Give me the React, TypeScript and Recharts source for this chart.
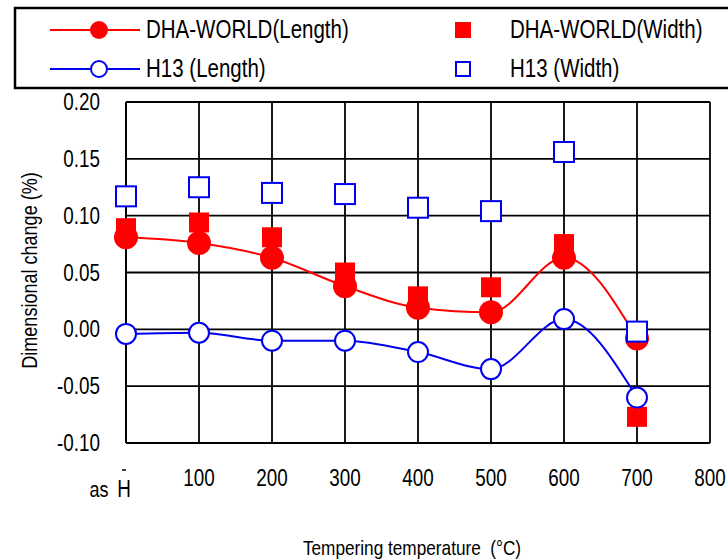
import React from 'react';
import { ComposedChart, Line, XAxis, YAxis, CartesianGrid } from 'recharts';

const temps = [0, 100, 200, 300, 400, 500, 600, 700];
const dhaLength = [0.081, 0.076, 0.063, 0.038, 0.019, 0.015, 0.063, -0.008];
const dhaWidth = [0.089, 0.094, 0.081, 0.05, 0.029, 0.037, 0.075, -0.077];
const h13Length = [-0.004, -0.003, -0.01, -0.01, -0.02, -0.035, 0.009, -0.06];
const h13Width = [0.117, 0.125, 0.12, 0.119, 0.107, 0.104, 0.156, -0.002];
const xTicks = [0, 100, 200, 300, 400, 500, 600, 700, 800];
const yTicks = [-0.1, -0.05, 0, 0.05, 0.1, 0.15, 0.2];

const legendItems = [
  { name: 'DHA-WORLD(Length)', color: '#ff0000', kind: 'lineFilled' },
  { name: 'DHA-WORLD(Width)', color: '#ff0000', kind: 'squareFilled' },
  { name: 'H13 (Length)', color: '#0000ee', kind: 'lineOpen' },
  { name: 'H13 (Width)', color: '#0000ee', kind: 'squareOpen' },
];

const data = temps.map((t, i) => ({
  t,
  dhaL: dhaLength[i],
  dhaW: dhaWidth[i],
  h13L: h13Length[i],
  h13W: h13Width[i],
}));

const FONT = "'Liberation Sans', Arial, sans-serif";
const RED = '#ff0000';
const BLUE = '#0000ee';
const SX = 0.82;

const NText = ({ x, y, size, anchor = 'start', rotate = 0, children }: any) => (
  <text
    transform={`translate(${x},${y}) rotate(${rotate}) scale(${SX},1)`}
    x={0}
    y={0}
    textAnchor={anchor}
    fontSize={size}
    fontFamily={FONT}
    fill="#000"
  >
    {children}
  </text>
);

const FilledCircle = (p: any) => <circle cx={p.cx} cy={p.cy} r={12} fill={RED} stroke="none" />;
const OpenCircle = (p: any) => <circle cx={p.cx} cy={p.cy} r={10} fill="#fff" stroke={BLUE} strokeWidth={2} />;
const FilledSquare = (p: any) => <rect x={p.cx - 10} y={p.cy - 10} width={20} height={20} fill={RED} />;
const OpenSquare = (p: any) => <rect x={p.cx - 10} y={p.cy - 10} width={20} height={20} fill="#fff" stroke={BLUE} strokeWidth={2} />;

const XTick = (props: any) => {
  const { x, y, payload } = props;
  if (payload.value === 0) {
    return (
      <g>
        <NText x={x - 27} y={y + 54} size={22} anchor="middle">as</NText>
        <NText x={x - 2} y={y + 54} size={23} anchor="middle">H</NText>
        <line x1={x - 4} x2={x + 0} y1={y + 27} y2={y + 27} stroke="#000" strokeWidth={1.5} />
      </g>
    );
  }
  return (
    <NText x={x} y={y + 43} size={23} anchor="middle">
      {payload.value}
    </NText>
  );
};

const YTick = (props: any) => {
  const { x, y, payload } = props;
  return (
    <NText x={x - 26} y={y + 8} size={23} anchor="end">
      {Number(payload.value).toFixed(2)}
    </NText>
  );
};

const XLabel = (props: any) => {
  const vb = props.viewBox || { x: 126, y: 443, width: 584, height: 60 };
  return (
    <NText x={vb.x + vb.width / 2 - 6} y={vb.y + 112} size={21} anchor="middle">
      {'Tempering temperature\u00a0\u00a0(°C)'}
    </NText>
  );
};

const YLabel = (props: any) => {
  const vb = props.viewBox || { x: 0, y: 102, width: 126, height: 341 };
  return (
    <NText x={vb.x + 37} y={vb.y + vb.height / 2 - 2} size={22} anchor="middle" rotate={-90}>
      Dimensional change (%)
    </NText>
  );
};

const LegendBox = () => {
  const pos = [
    { sx: 99, tx: 146, y: 30 },
    { sx: 463, tx: 510, y: 30 },
    { sx: 99, tx: 146, y: 69 },
    { sx: 463, tx: 510, y: 69 },
  ];
  return (
    <svg width={728} height={100} style={{ position: 'absolute', left: 0, top: 0 }}>
      <rect x={15} y={8} width={730} height={80} fill="#fff" stroke="#000" strokeWidth={2.5} />
      {legendItems.map((it, i) => {
        const p = pos[i];
        return (
          <g key={it.name}>
            {it.kind === 'lineFilled' && (
              <g>
                <line x1={50} x2={140} y1={p.y} y2={p.y} stroke={it.color} strokeWidth={2} />
                <circle cx={p.sx} cy={p.y} r={9} fill={it.color} />
              </g>
            )}
            {it.kind === 'lineOpen' && (
              <g>
                <line x1={50} x2={140} y1={p.y} y2={p.y} stroke={it.color} strokeWidth={2} />
                <circle cx={p.sx} cy={p.y} r={8} fill="#fff" stroke={it.color} strokeWidth={2} />
              </g>
            )}
            {it.kind === 'squareFilled' && <rect x={p.sx - 8} y={p.y - 8} width={16} height={16} fill={it.color} />}
            {it.kind === 'squareOpen' && (
              <rect x={p.sx - 7} y={p.y - 7} width={14} height={14} fill="#fff" stroke={it.color} strokeWidth={2} />
            )}
            <NText x={p.tx} y={p.y + 8} size={25}>
              {it.name}
            </NText>
          </g>
        );
      })}
    </svg>
  );
};

export default function App() {
  return (
    <div style={{ position: 'absolute', left: 0, top: 0, width: 728, height: 560, background: '#fff' }}>
      <ComposedChart width={728} height={560} data={data} margin={{ top: 102, right: 18, bottom: 57, left: 0 }}>
        <CartesianGrid stroke="#000" strokeWidth={1.8} horizontalValues={yTicks} verticalValues={xTicks} />
        <XAxis
          dataKey="t"
          type="number"
          domain={[0, 800]}
          ticks={xTicks}
          interval={0}
          height={60}
          tickLine={false}
          tickSize={0}
          tickMargin={0}
          axisLine={{ stroke: '#000', strokeWidth: 2 }}
          tick={<XTick />}
          label={<XLabel />}
        />
        <YAxis
          type="number"
          domain={[-0.1, 0.2]}
          ticks={yTicks}
          interval={0}
          width={126}
          tickLine={false}
          tickSize={0}
          tickMargin={0}
          axisLine={{ stroke: '#000', strokeWidth: 2 }}
          tick={<YTick />}
          label={<YLabel />}
        />
        <Line dataKey="dhaW" stroke="none" isAnimationActive={false} dot={<FilledSquare />} activeDot={false} />
        <Line
          dataKey="dhaL"
          type="monotone"
          stroke={RED}
          strokeWidth={2}
          isAnimationActive={false}
          dot={<FilledCircle />}
          activeDot={false}
        />
        <Line
          dataKey="h13L"
          type="monotone"
          stroke={BLUE}
          strokeWidth={2}
          isAnimationActive={false}
          dot={<OpenCircle />}
          activeDot={false}
        />
        <Line dataKey="h13W" stroke="none" isAnimationActive={false} dot={<OpenSquare />} activeDot={false} />
      </ComposedChart>
      <LegendBox />
    </div>
  );
}
